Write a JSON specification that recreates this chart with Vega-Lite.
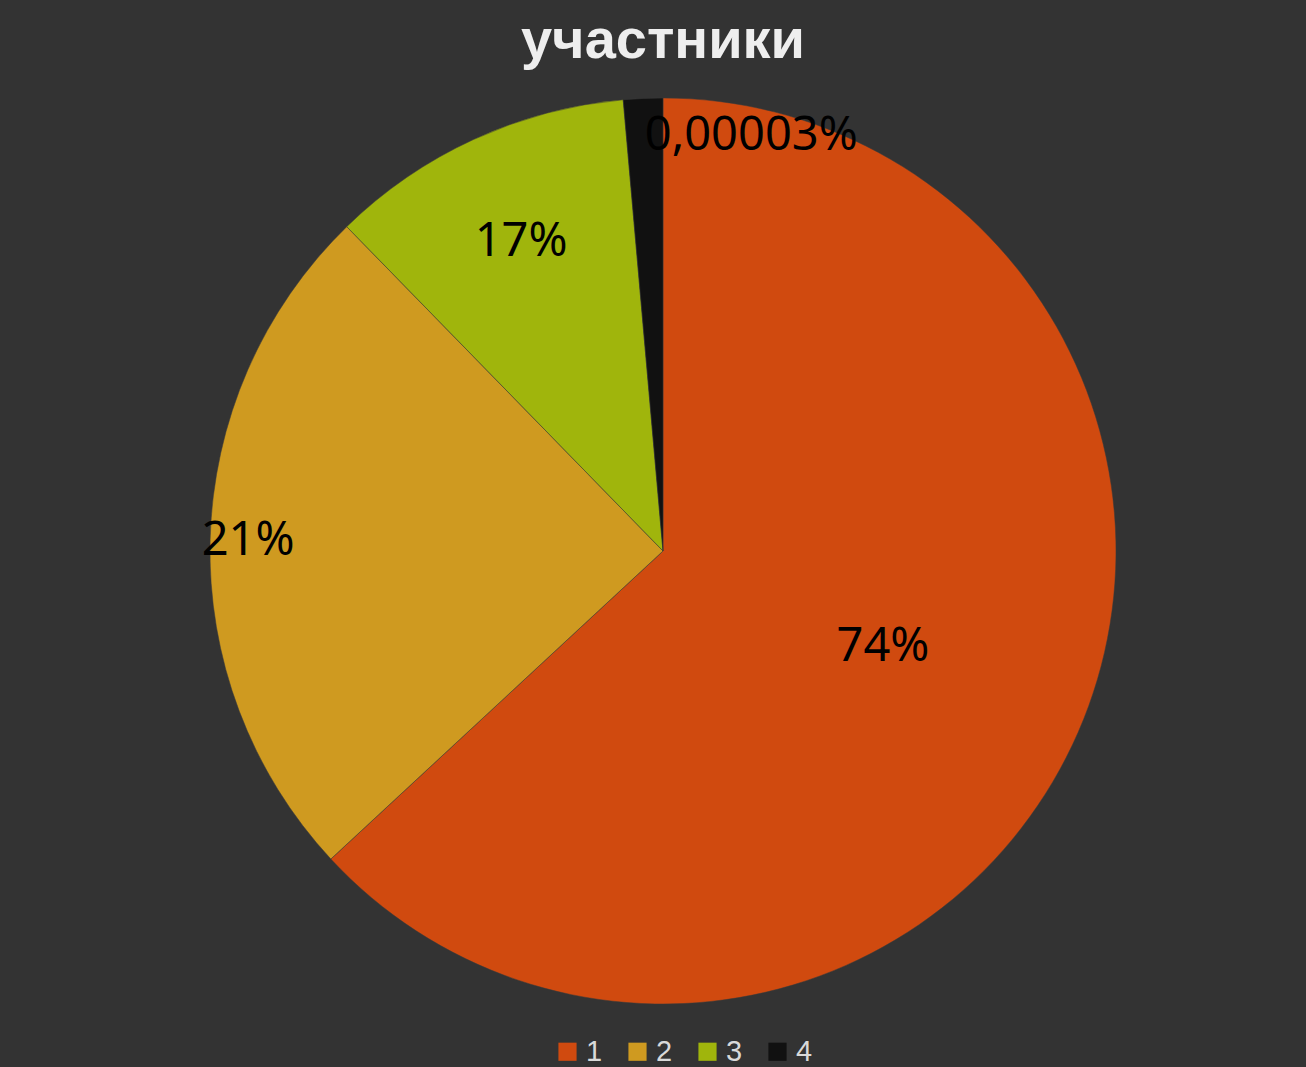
{
  "$schema": "https://vega.github.io/schema/vega-lite/v6.json",
  "width": 220,
  "height": 932,
  "autosize": {"type": "none"},
  "padding": {"top": 85, "bottom": 50, "left": 553, "right": 533},
  "background": "#333333",
  "title": {
    "text": "участники",
    "font": "Liberation Sans",
    "fontSize": 56,
    "fontWeight": "bold",
    "color": "#eeeeee",
    "anchor": "middle",
    "offset": 15
  },
  "config": {
    "view": {"stroke": null},
    "legend": {
      "orient": "bottom",
      "direction": "horizontal",
      "labelFont": "Liberation Sans",
      "labelFontSize": 29,
      "labelColor": "#d9d9d9",
      "symbolType": "square",
      "symbolSize": 330,
      "symbolStrokeWidth": 0,
      "columnPadding": 20,
      "labelOffset": 4,
      "padding": 0,
      "title": null,
      "offset": 20
    }
  },
  "data": {
    "values": [
      {"category": "1", "share": 63.1, "label": "74%"},
      {"category": "2", "share": 24.6, "label": "21%"},
      {"category": "3", "share": 10.9, "label": "17%"},
      {"category": "4", "share": 1.4, "label": "0,00003%"}
    ]
  },
  "encoding": {
    "theta": {"field": "share", "type": "quantitative", "stack": true},
    "order": {"field": "category", "type": "ordinal"},
    "detail": {"field": "category", "type": "nominal"}
  },
  "layer": [
    {
      "mark": {"type": "arc", "outerRadius": 453, "stroke": "#3a3a3a", "strokeWidth": 0.5},
      "encoding": {
        "color": {
          "field": "category",
          "type": "nominal",
          "scale": {"domain": ["1", "2", "3", "4"], "range": ["#d04a0f", "#cf9a20", "#a0b50c", "#111111"]},
          "legend": {"title": null}
        }
      }
    },
    {
      "mark": {"type": "text", "radius": 240, "font": "Noto Sans", "fontSize": 47, "color": "#000000"},
      "encoding": {
        "text": {"condition": {"test": "datum.category != '1'", "value": ""}, "field": "label", "type": "nominal"}
      }
    },
    {
      "mark": {"type": "text", "radius": 415, "font": "Noto Sans", "fontSize": 47, "color": "#000000"},
      "encoding": {
        "text": {"condition": {"test": "datum.category != '2'", "value": ""}, "field": "label", "type": "nominal"}
      }
    },
    {
      "mark": {"type": "text", "radius": 340, "font": "Noto Sans", "fontSize": 47, "color": "#000000"},
      "encoding": {
        "text": {"condition": {"test": "datum.category != '3'", "value": ""}, "field": "label", "type": "nominal"}
      }
    },
    {
      "mark": {"type": "text", "radius": 415, "align": "left", "font": "Noto Sans", "fontSize": 47, "color": "#000000"},
      "encoding": {
        "text": {"condition": {"test": "datum.category != '4'", "value": ""}, "field": "label", "type": "nominal"}
      }
    }
  ]
}
